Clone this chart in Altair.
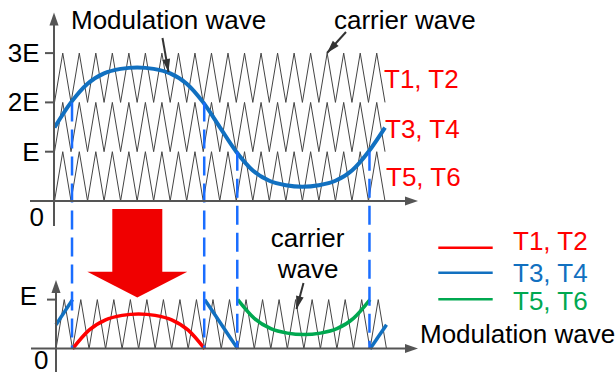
import math
import altair as alt
import pandas as pd

W, H = 616, 372

RED = "#ff0000"
BLUE = "#1170c0"
GREEN = "#00a850"
DASH_BLUE = "#1a6dff"
GRAY = "#555555"
CARRIER = "#444444"
DARK = "#333333"
FONT = "Liberation Sans"
FS = 26

# ---------------- data ----------------
# modulation wave samples: time (fraction of one modulation period), value (units of E)
mod_t = [0.00, 0.05, 0.10, 0.15, 0.20, 0.25, 0.30, 0.35, 0.40, 0.45, 0.50,
         0.55, 0.60, 0.65, 0.70, 0.75, 0.80, 0.85, 0.90, 0.95, 1.00]
mod_v = [1.49, 2.00, 2.38, 2.59, 2.68, 2.71, 2.68, 2.59, 2.38, 2.00, 1.50,
         1.00, 0.62, 0.41, 0.32, 0.29, 0.32, 0.41, 0.62, 1.00, 1.49]

carrier_levels = [0, 1, 2]      # lower edge of each stacked carrier (E units)
carrier_periods = 20            # triangles per modulation period

# bottom panel: (switch group, first sample, last sample, level subtracted)
segments = [("T3, T4", 0, 1, 1), ("T1, T2", 1, 9, 2), ("T3, T4", 9, 11, 1),
            ("T5, T6", 11, 19, 0), ("T3, T4", 19, 20, 1)]
group_colors = {"T1, T2": RED, "T3, T4": BLUE, "T5, T6": GREEN}

crossing_idx = [1, 9, 11, 19]   # samples where the wave crosses a carrier band

y_tick_values = [3, 2, 1]
y_tick_labels = ["3E", "2E", "E"]
right_labels = ["T1, T2", "T3, T4", "T5, T6"]
legend_labels = ["T1, T2", "T3, T4", "T5, T6"]

# ---------------- coordinate helpers ----------------
PX0, PXU, PY0, PYU = 54.5, 330.5, 201.0, 49.3


def tx(px):
    return (px - PX0) / PXU


def vy(py):
    return (PY0 - py) / PYU


BOT_V = -3.0          # bottom panel baseline in E units
BOT_T = 1.5 / PXU     # bottom panel slight horizontal shift

xs = alt.Scale(domain=[tx(0), tx(W)], nice=False, zero=False)
ys = alt.Scale(domain=[vy(H), vy(0)], nice=False, zero=False)


def X(f="x"):
    return alt.X(f"{f}:Q", scale=xs, axis=None)


def Y(f="y"):
    return alt.Y(f"{f}:Q", scale=ys, axis=None)


# ---------------- carriers ----------------
rows = []
n = 2 * carrier_periods
for L in carrier_levels:
    for k in range(n + 1):
        rows.append({"id": f"top{L}", "x": k / n, "y": L + k % 2})
for k in range(n + 1):
    rows.append({"id": "bot", "x": k / n + BOT_T, "y": BOT_V + k % 2})
carrier_df = pd.DataFrame(rows)
carriers = alt.Chart(carrier_df).mark_line(color=CARRIER, strokeWidth=1).encode(
    x=X(), y=Y(), detail="id:N")

# ---------------- modulation wave (top) ----------------
mod_df = pd.DataFrame({"x": mod_t, "y": mod_v})
mod_line = alt.Chart(mod_df).mark_line(color=BLUE, strokeWidth=4, interpolate="monotone").encode(
    x=X(), y=Y())

# ---------------- bottom segments ----------------
rows = []
for si, (grp, a, b, lev) in enumerate(segments):
    for i in range(a, b + 1):
        rows.append({"seg": si, "x": mod_t[i] + BOT_T, "y": BOT_V + mod_v[i] - lev,
                     "col": group_colors[grp]})
seg_df = pd.DataFrame(rows)
seg_lines = alt.Chart(seg_df).mark_line(strokeWidth=3.5, interpolate="monotone").encode(
    x=X(), y=Y(), detail="seg:N", color=alt.Color("col:N", scale=None))

# ---------------- dashed projection lines ----------------
dash_df = pd.DataFrame({"x": [mod_t[i] + 0.003 for i in crossing_idx],
                        "y": [mod_v[i] for i in crossing_idx],
                        "y2": [BOT_V] * len(crossing_idx)})
dashes = alt.Chart(dash_df).mark_rule(color=DASH_BLUE, strokeWidth=2.5, strokeDash=[19, 8]).encode(
    x=X(), y=Y(), y2=alt.Y2("y2:Q"))

# ---------------- axes (lines + ticks) ----------------
ax_px = [
    (54, 54, 24, 226),      # top y axis
    (30, 407, 201, 201),    # top x axis
    (56, 56, 291, 372),     # bottom y axis
    (31, 407, 348.5, 348.5),  # bottom x axis
    (47, 56, 299.6, 299.6),   # bottom E tick
]
rows = [{"x": tx(a), "x2": tx(b), "y": vy(c), "y2": vy(d)} for a, b, c, d in ax_px]
for v in y_tick_values:
    rows.append({"x": tx(45), "x2": tx(54), "y": v, "y2": v})
axes_df = pd.DataFrame(rows)
axes = alt.Chart(axes_df).mark_rule(color=GRAY, strokeWidth=2).encode(
    x=X(), x2=alt.X2("x2:Q"), y=Y(), y2=alt.Y2("y2:Q"))

HEAD = "M0,-1L0.7,1L-0.7,1Z"


def head(tip_x, tip_y, angle, r):
    rad = math.radians(angle)
    ux, uy = math.sin(rad), -math.cos(rad)
    return {"x": tx(tip_x - r * ux), "y": vy(tip_y - r * uy), "angle": angle, "size": (2 * r) ** 2}


axis_heads = pd.DataFrame([
    head(54, 12.5, 0, 6.5),
    head(418, 201, 90, 6.5),
    head(56, 280, 0, 6.5),
    head(418, 348.5, 90, 6.5),
])
axis_head_marks = alt.Chart(axis_heads).mark_point(
    shape=HEAD, filled=True, opacity=1, color=GRAY, strokeWidth=0).encode(
    x=X(), y=Y(), angle=alt.Angle("angle:Q", scale=None), size=alt.Size("size:Q", scale=None))

# ---------------- annotation arrows ----------------
ann = [((162.5, 38), (168.5, 72)), ((346, 32), (327, 53)), ((303.5, 283), (296.5, 309))]
rows, hrows = [], []
for (x0, y0), (x1, y1) in ann:
    rows.append({"x": tx(x0), "y": vy(y0), "x2": tx(x1), "y2": vy(y1)})
    ang = math.degrees(math.atan2(x1 - x0, -(y1 - y0))) % 360
    hrows.append(head(x1, y1, ang, 6.5))
ann_lines = alt.Chart(pd.DataFrame(rows)).mark_rule(color=DARK, strokeWidth=2).encode(
    x=X(), x2=alt.X2("x2:Q"), y=Y(), y2=alt.Y2("y2:Q"))
ann_heads = alt.Chart(pd.DataFrame(hrows)).mark_point(
    shape="M0,-1L0.6,1L-0.6,1Z", filled=True, opacity=1, color=DARK, strokeWidth=0).encode(
    x=X(), y=Y(), angle=alt.Angle("angle:Q", scale=None), size=alt.Size("size:Q", scale=None))

# ---------------- big red arrow ----------------
shaft = alt.Chart(pd.DataFrame([{"x": tx(112.3), "x2": tx(162.3), "y": vy(209), "y2": vy(272)}])).mark_rect(
    color="#f00000").encode(x=X(), x2=alt.X2("x2:Q"), y=Y(), y2=alt.Y2("y2:Q"))
head_df = pd.DataFrame({"x": [tx(87.3), tx(137.3), tx(187.3)],
                        "y": [vy(271.7)] * 3,
                        "y2": [vy(271.7), vy(297.5), vy(271.7)]})
big_head = alt.Chart(head_df).mark_area(color="#f00000", orient="vertical", opacity=1).encode(
    x=X(), y=Y(), y2=alt.Y2("y2:Q"))

# ---------------- legend lines ----------------
leg_y = [247.7, 272.7, 299.3]
leg_df = pd.DataFrame({"x": [tx(438.3)] * 3, "x2": [tx(492.7)] * 3,
                       "y": [vy(v) for v in leg_y], "y2": [vy(v) for v in leg_y],
                       "col": [group_colors[g] for g in legend_labels]})
leg_lines = alt.Chart(leg_df).mark_rule(strokeWidth=2.5).encode(
    x=X(), x2=alt.X2("x2:Q"), y=Y(), y2=alt.Y2("y2:Q"), color=alt.Color("col:N", scale=None))

# ---------------- texts ----------------
left_txt = [
    ("Modulation wave", 71, 29, "black"),
    ("carrier wave", 334, 29, "black"),
    (right_labels[0], 384, 88, RED),
    (right_labels[1], 385, 138, RED),
    (right_labels[2], 386, 186, RED),
    ("0", 29.5, 226, "black"),
    ("E", 19.7, 305, "black"),
    ("0", 34, 369, "black"),
    (legend_labels[0], 513, 250, group_colors[legend_labels[0]]),
    (legend_labels[1], 513, 281.5, group_colors[legend_labels[1]]),
    (legend_labels[2], 513, 310, group_colors[legend_labels[2]]),
    ("Modulation wave", 420, 343, "black"),
]
right_txt = [(lab, 39.5, 201 - PYU * v + 9, "black") for lab, v in zip(y_tick_labels, y_tick_values)]
center_txt = [("carrier", 307.5, 246.7, "black"), ("wave", 308, 278, "black")]


def txt_df(items):
    return pd.DataFrame([{"text": t, "x": tx(a), "y": vy(b), "col": c} for t, a, b, c in items])


def txt_layer(items, align):
    return alt.Chart(txt_df(items)).mark_text(
        align=align, baseline="alphabetic", font=FONT, fontSize=FS).encode(
        x=X(), y=Y(), text="text:N", color=alt.Color("col:N", scale=None))


chart = alt.layer(
    carriers, mod_line, seg_lines, dashes, axes, axis_head_marks,
    ann_lines, ann_heads, shaft, big_head, leg_lines,
    txt_layer(left_txt, "left"), txt_layer(right_txt, "right"), txt_layer(center_txt, "center"),
).properties(
    width=W, height=H, autosize=alt.AutoSizeParams(type="none"), padding=0, background="white"
).configure_view(stroke=None)

chart.save("out.html", embed_options={"renderer": "svg", "actions": False})
